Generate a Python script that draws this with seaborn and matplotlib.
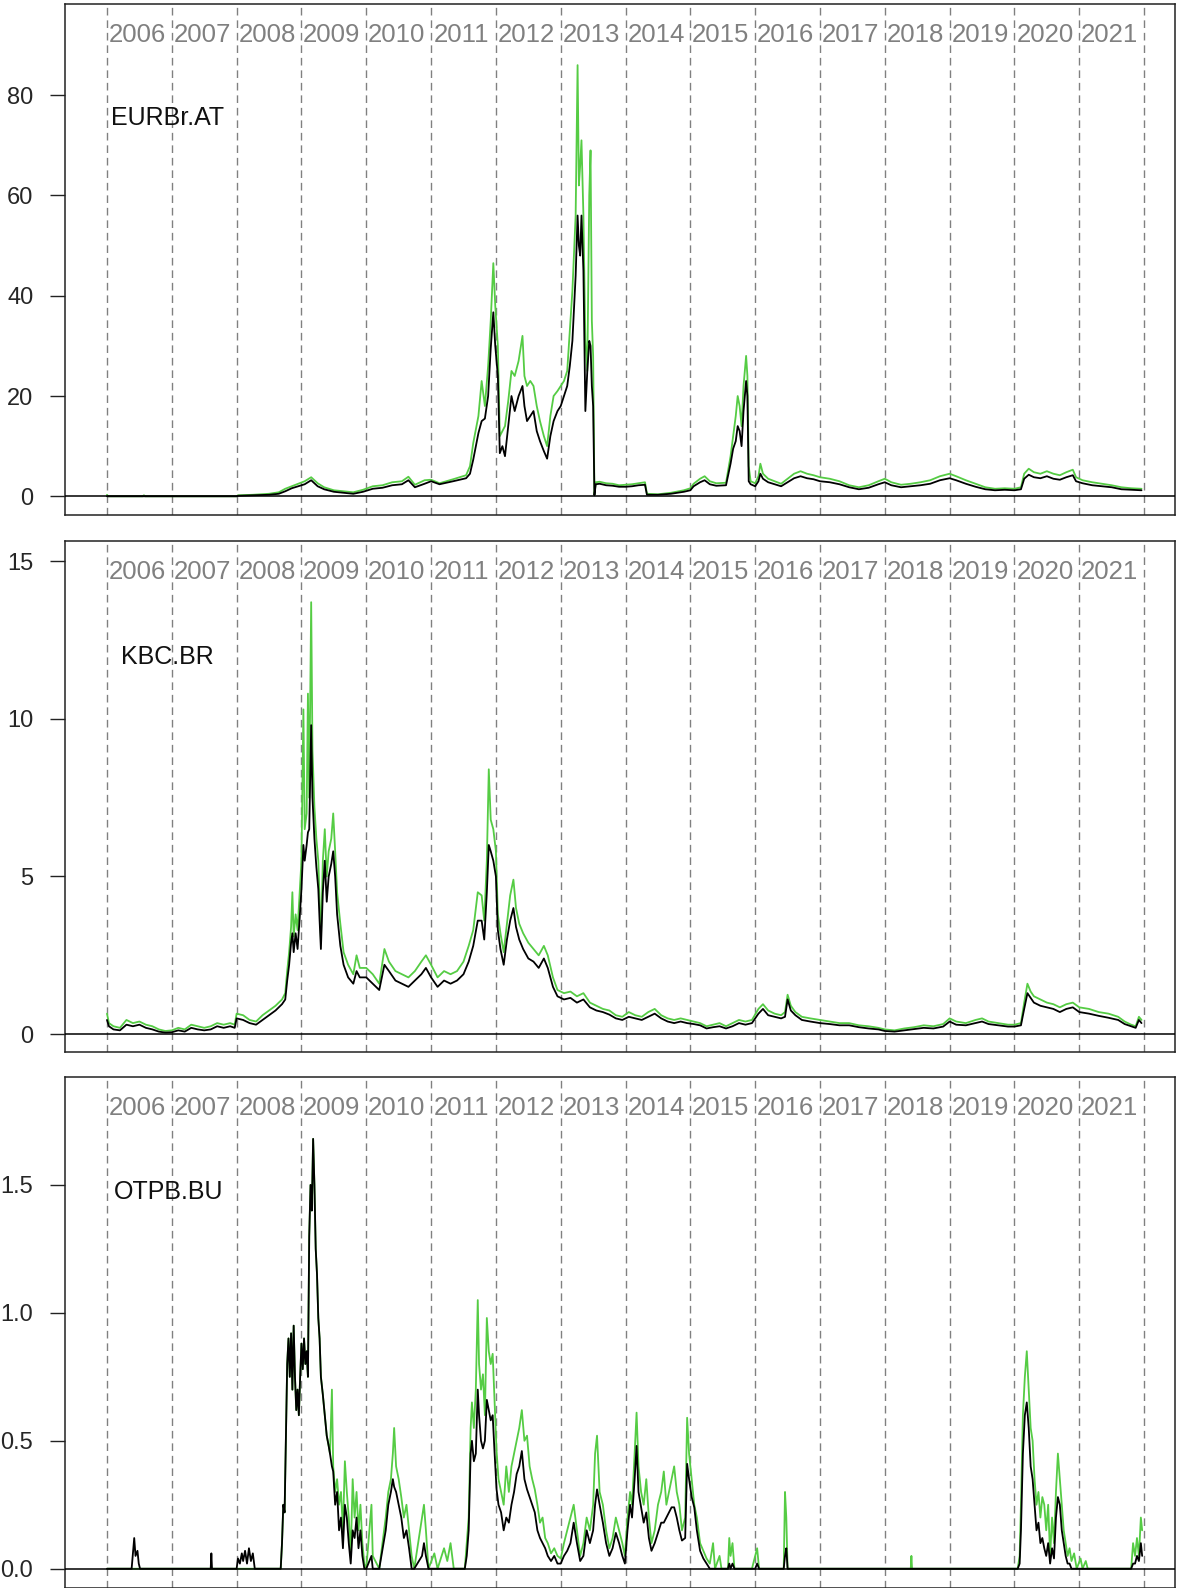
import numpy as np
import pandas as pd
import seaborn as sns
import matplotlib.pyplot as plt
import matplotlib.transforms as mtransforms

# ---- data (decimal years, two series per bank) ----
years = list(range(2006, 2022))
names = ['EURBr.AT', 'KBC.BR', 'OTPB.BU']

eur_t = [2006.00, 2006.02, 2006.04, 2006.55, 2006.57, 2006.59, 2008.00, 2008.02, 2008.25, 2008.50,
         2008.65, 2008.75, 2008.85, 2008.95, 2009.05, 2009.15, 2009.25, 2009.35, 2009.50, 2009.65,
         2009.80, 2009.95, 2010.10, 2010.25, 2010.40, 2010.55, 2010.65, 2010.75, 2010.90, 2011.00,
         2011.13, 2011.34, 2011.54, 2011.60, 2011.65, 2011.73, 2011.78, 2011.83, 2011.88, 2011.92,
         2011.96, 2011.99, 2012.03, 2012.06, 2012.10, 2012.14, 2012.19, 2012.24, 2012.29, 2012.35,
         2012.41, 2012.44, 2012.48, 2012.53, 2012.58, 2012.63, 2012.68, 2012.74, 2012.79, 2012.84,
         2012.89, 2012.95, 2013.00, 2013.05, 2013.10, 2013.14, 2013.18, 2013.23, 2013.26, 2013.28,
         2013.30, 2013.32, 2013.35, 2013.38, 2013.41, 2013.44, 2013.46, 2013.48, 2013.50, 2013.52,
         2013.54, 2013.60, 2013.70, 2013.80, 2013.90, 2014.00, 2014.10, 2014.20, 2014.30, 2014.33,
         2014.50, 2014.70, 2014.90, 2015.00, 2015.05, 2015.15, 2015.22, 2015.30, 2015.40, 2015.55,
         2015.58, 2015.62, 2015.66, 2015.70, 2015.73, 2015.76, 2015.79, 2015.82, 2015.86, 2015.88,
         2015.90, 2015.93, 2016.00, 2016.05, 2016.08, 2016.12, 2016.20, 2016.30, 2016.40, 2016.50,
         2016.60, 2016.70, 2016.80, 2016.90, 2017.00, 2017.15, 2017.30, 2017.45, 2017.60, 2017.75,
         2017.90, 2018.00, 2018.10, 2018.25, 2018.40, 2018.55, 2018.70, 2018.85, 2019.00, 2019.10,
         2019.25, 2019.40, 2019.55, 2019.70, 2019.85, 2020.00, 2020.10, 2020.15, 2020.22, 2020.30,
         2020.40, 2020.50, 2020.60, 2020.70, 2020.80, 2020.90, 2020.95, 2021.05, 2021.20, 2021.35,
         2021.50, 2021.65, 2021.80, 2021.96]
eur_green = [0.3, 0.0, 0.0, 0.0, 0.2, 0.0, 0.0, 0.2, 0.3, 0.5,
             0.8, 1.5, 2.0, 2.5, 3.0, 3.8, 2.6, 1.8, 1.2, 1.0,
             0.8, 1.3, 2.0, 2.2, 2.8, 3.0, 3.9, 2.3, 3.2, 3.3,
             2.6, 3.4, 4.2, 6.0, 10.6, 16.0, 23.0, 18.0, 26.0, 35.0,
             46.5, 38.0, 30.0, 12.0, 13.0, 14.0, 19.0, 25.0, 24.0, 27.0,
             32.0, 24.0, 22.0, 23.0, 22.0, 18.0, 15.0, 12.0, 10.0, 16.0,
             20.0, 21.0, 22.0, 23.0, 25.0, 33.0, 41.0, 56.0, 86.0, 62.0,
             66.0, 71.0, 56.0, 31.0, 25.0, 60.0, 69.0, 35.0, 28.0, 0.3,
             2.8, 2.9, 2.6, 2.5, 2.2, 2.3, 2.4, 2.6, 2.8, 0.5,
             0.4, 0.7, 1.2, 1.6, 2.5, 3.5, 4.0, 3.0, 2.6, 2.7,
             5.0, 8.0, 12.0, 16.0, 20.0, 18.0, 14.0, 22.0, 28.0, 24.0,
             6.0, 3.0, 2.6, 4.0, 6.5, 4.5, 3.5, 3.0, 2.5, 3.5,
             4.5, 5.0, 4.5, 4.2, 3.8, 3.5, 3.0, 2.2, 1.8, 2.2,
             3.0, 3.5, 2.8, 2.3, 2.5, 2.8, 3.2, 4.0, 4.5, 4.0,
             3.2, 2.5, 1.8, 1.5, 1.6, 1.5, 1.8, 4.5, 5.5, 4.8,
             4.5, 5.0, 4.5, 4.2, 4.8, 5.3, 3.8, 3.2, 2.8, 2.5,
             2.2, 1.8, 1.6, 1.5]
eur_black = [0.0, 0.0, 0.0, 0.0, 0.0, 0.0, 0.0, 0.1, 0.2, 0.3,
             0.5, 1.0, 1.6, 2.0, 2.4, 3.2, 2.0, 1.4, 0.9, 0.7,
             0.5, 0.9, 1.5, 1.7, 2.2, 2.4, 3.2, 1.8, 2.5, 3.0,
             2.4, 3.0, 3.6, 4.5, 7.3, 12.6, 15.0, 15.5, 20.0, 29.5,
             36.7, 30.0, 24.0, 8.6, 10.0, 8.0, 14.0, 20.0, 17.0, 20.0,
             22.0, 18.0, 15.0, 16.0, 17.0, 13.0, 11.0, 9.0, 7.5, 12.0,
             15.0, 17.0, 18.0, 20.0, 22.0, 26.0, 31.0, 44.0, 56.0, 50.0,
             48.0, 56.0, 45.0, 17.0, 25.0, 31.0, 30.0, 22.0, 18.0, 0.2,
             2.4, 2.5, 2.2, 2.1, 1.9, 1.9, 2.0, 2.2, 2.3, 0.3,
             0.3, 0.5, 0.9, 1.2, 2.0, 2.8, 3.2, 2.4, 2.1, 2.2,
             4.0, 6.5, 9.5, 11.0, 14.0, 13.0, 10.0, 17.0, 23.0, 20.0,
             3.0, 2.4, 2.0, 3.0, 4.5, 3.5, 2.8, 2.4, 2.0, 2.8,
             3.6, 4.0, 3.6, 3.4, 3.0, 2.8, 2.4, 1.8, 1.4, 1.7,
             2.4, 2.8, 2.2, 1.8, 2.0, 2.2, 2.5, 3.2, 3.6, 3.2,
             2.5, 1.9, 1.4, 1.2, 1.3, 1.2, 1.4, 3.5, 4.3, 3.8,
             3.6, 4.0, 3.5, 3.3, 3.8, 4.2, 3.0, 2.6, 2.2, 2.0,
             1.8, 1.4, 1.3, 1.2]

kbc_t = [2006.00, 2006.03, 2006.10, 2006.20, 2006.30, 2006.40, 2006.50, 2006.60, 2006.70, 2006.80,
         2006.90, 2007.00, 2007.10, 2007.20, 2007.30, 2007.40, 2007.50, 2007.60, 2007.70, 2007.80,
         2007.90, 2007.97, 2008.00, 2008.10, 2008.20, 2008.30, 2008.40, 2008.50, 2008.60, 2008.70,
         2008.75, 2008.78, 2008.81, 2008.84, 2008.86, 2008.88, 2008.91, 2008.94, 2008.97, 2009.00,
         2009.03, 2009.05, 2009.08, 2009.10, 2009.12, 2009.15, 2009.17, 2009.20, 2009.23, 2009.26,
         2009.28, 2009.30, 2009.33, 2009.36, 2009.39, 2009.42, 2009.46, 2009.49, 2009.52, 2009.55,
         2009.60, 2009.65, 2009.72, 2009.80, 2009.85, 2009.90, 2010.00, 2010.10, 2010.20, 2010.28,
         2010.35, 2010.45, 2010.55, 2010.65, 2010.75, 2010.85, 2010.92, 2011.00, 2011.10, 2011.20,
         2011.30, 2011.40, 2011.50, 2011.58, 2011.65, 2011.72, 2011.78, 2011.82, 2011.86, 2011.89,
         2011.92, 2011.96, 2012.00, 2012.03, 2012.07, 2012.12, 2012.17, 2012.22, 2012.27, 2012.31,
         2012.36, 2012.42, 2012.50, 2012.58, 2012.66, 2012.74, 2012.80, 2012.88, 2012.95, 2013.05,
         2013.15, 2013.25, 2013.35, 2013.45, 2013.55, 2013.65, 2013.75, 2013.85, 2013.95, 2014.05,
         2014.15, 2014.25, 2014.35, 2014.45, 2014.55, 2014.65, 2014.75, 2014.85, 2014.95, 2015.05,
         2015.15, 2015.25, 2015.35, 2015.45, 2015.55, 2015.65, 2015.75, 2015.85, 2015.95, 2016.05,
         2016.12, 2016.20, 2016.30, 2016.40, 2016.46, 2016.50, 2016.55, 2016.62, 2016.72, 2016.85,
         2017.00, 2017.15, 2017.30, 2017.45, 2017.60, 2017.75, 2017.90, 2018.00, 2018.15, 2018.30,
         2018.45, 2018.60, 2018.75, 2018.90, 2019.00, 2019.10, 2019.25, 2019.40, 2019.50, 2019.60,
         2019.75, 2019.90, 2020.00, 2020.10, 2020.15, 2020.20, 2020.25, 2020.30, 2020.40, 2020.50,
         2020.60, 2020.70, 2020.80, 2020.90, 2021.00, 2021.15, 2021.30, 2021.45, 2021.60, 2021.70,
         2021.80, 2021.87, 2021.92, 2021.96]
kbc_green = [0.65, 0.35, 0.25, 0.20, 0.45, 0.35, 0.40, 0.30, 0.25, 0.15,
             0.10, 0.12, 0.20, 0.15, 0.30, 0.25, 0.20, 0.25, 0.35, 0.30,
             0.35, 0.30, 0.65, 0.60, 0.45, 0.40, 0.60, 0.75, 0.90, 1.10,
             1.30, 2.00, 2.60, 3.40, 4.50, 3.10, 3.80, 3.30, 4.40, 5.50,
             10.3, 6.50, 7.00, 10.8, 7.50, 13.7, 9.00, 7.20, 6.20, 5.50,
             4.20, 3.00, 5.50, 6.50, 5.00, 5.80, 6.20, 7.00, 5.80, 4.50,
             3.50, 2.60, 2.20, 1.90, 2.50, 2.10, 2.10, 1.90, 1.60, 2.70,
             2.30, 2.00, 1.90, 1.80, 2.00, 2.30, 2.50, 2.20, 1.80, 2.00,
             1.90, 2.00, 2.30, 2.80, 3.30, 4.50, 4.40, 3.60, 5.50, 8.40,
             6.80, 6.50, 5.80, 3.80, 3.20, 2.60, 3.50, 4.40, 4.90, 4.00,
             3.50, 3.20, 2.90, 2.70, 2.50, 2.80, 2.50, 1.80, 1.40, 1.30,
             1.35, 1.20, 1.30, 1.00, 0.90, 0.80, 0.75, 0.60, 0.55, 0.70,
             0.60, 0.55, 0.70, 0.80, 0.60, 0.50, 0.45, 0.50, 0.45, 0.40,
             0.35, 0.25, 0.30, 0.35, 0.25, 0.35, 0.45, 0.40, 0.45, 0.80,
             0.95, 0.75, 0.65, 0.60, 0.70, 1.25, 0.90, 0.70, 0.55, 0.50,
             0.45, 0.40, 0.35, 0.35, 0.28, 0.25, 0.20, 0.15, 0.12, 0.18,
             0.22, 0.28, 0.25, 0.32, 0.50, 0.40, 0.35, 0.45, 0.50, 0.40,
             0.35, 0.30, 0.30, 0.35, 1.00, 1.60, 1.35, 1.20, 1.10, 1.00,
             0.95, 0.85, 0.95, 1.00, 0.85, 0.80, 0.70, 0.65, 0.55, 0.40,
             0.30, 0.25, 0.55, 0.45]
kbc_black = [0.45, 0.25, 0.15, 0.12, 0.30, 0.25, 0.30, 0.20, 0.15, 0.08,
             0.05, 0.06, 0.12, 0.08, 0.20, 0.15, 0.12, 0.15, 0.25, 0.20,
             0.25, 0.20, 0.50, 0.45, 0.35, 0.30, 0.45, 0.60, 0.75, 0.95,
             1.10, 1.70, 2.20, 2.90, 3.20, 2.60, 3.20, 2.70, 3.60, 4.60,
             6.00, 5.50, 6.00, 6.40, 6.50, 9.80, 7.50, 6.20, 5.30, 4.60,
             3.60, 2.70, 4.50, 5.50, 4.20, 5.00, 5.40, 5.80, 5.00, 3.80,
             2.80, 2.20, 1.80, 1.60, 2.00, 1.80, 1.80, 1.60, 1.40, 2.20,
             2.00, 1.70, 1.60, 1.50, 1.70, 1.90, 2.10, 1.80, 1.50, 1.70,
             1.60, 1.70, 1.90, 2.30, 2.80, 3.60, 3.60, 3.00, 4.50, 6.00,
             5.80, 5.50, 5.00, 3.30, 2.70, 2.20, 3.00, 3.60, 4.00, 3.40,
             3.00, 2.70, 2.40, 2.30, 2.10, 2.40, 2.10, 1.50, 1.20, 1.10,
             1.15, 1.00, 1.10, 0.85, 0.75, 0.70, 0.62, 0.50, 0.45, 0.55,
             0.50, 0.45, 0.55, 0.65, 0.50, 0.40, 0.35, 0.40, 0.35, 0.32,
             0.28, 0.18, 0.22, 0.25, 0.18, 0.25, 0.35, 0.30, 0.35, 0.65,
             0.80, 0.60, 0.55, 0.50, 0.55, 1.10, 0.75, 0.60, 0.45, 0.40,
             0.35, 0.32, 0.28, 0.28, 0.22, 0.18, 0.15, 0.10, 0.08, 0.12,
             0.16, 0.20, 0.18, 0.24, 0.40, 0.30, 0.28, 0.35, 0.40, 0.32,
             0.28, 0.24, 0.24, 0.28, 0.80, 1.30, 1.15, 1.00, 0.90, 0.85,
             0.80, 0.70, 0.80, 0.85, 0.70, 0.65, 0.58, 0.52, 0.45, 0.32,
             0.25, 0.20, 0.45, 0.35]

otp_t = [2006.00, 2006.38, 2006.40, 2006.42, 2006.44, 2006.47, 2006.49, 2006.51, 2007.60, 2007.61,
         2007.62, 2008.00, 2008.02, 2008.05, 2008.08, 2008.10, 2008.13, 2008.16, 2008.19, 2008.22,
         2008.25, 2008.28, 2008.68, 2008.70, 2008.72, 2008.74, 2008.76, 2008.78, 2008.80, 2008.82,
         2008.84, 2008.86, 2008.88, 2008.90, 2008.92, 2008.94, 2008.96, 2008.98, 2009.00, 2009.02,
         2009.04, 2009.06, 2009.08, 2009.10, 2009.12, 2009.14, 2009.16, 2009.18, 2009.20, 2009.22,
         2009.24, 2009.26, 2009.28, 2009.30, 2009.33, 2009.36, 2009.39, 2009.42, 2009.44, 2009.47,
         2009.49, 2009.52, 2009.55, 2009.58, 2009.61, 2009.64, 2009.67, 2009.70, 2009.73, 2009.76,
         2009.79, 2009.82, 2009.85, 2009.88, 2009.91, 2009.94, 2009.97, 2010.00, 2010.08, 2010.10,
         2010.20, 2010.30, 2010.34, 2010.38, 2010.41, 2010.43, 2010.46, 2010.50, 2010.54, 2010.58,
         2010.62, 2010.66, 2010.70, 2010.74, 2010.86, 2010.89, 2010.92, 2010.96, 2011.05, 2011.10,
         2011.20, 2011.25, 2011.30, 2011.35, 2011.52, 2011.55, 2011.58, 2011.61, 2011.63, 2011.66,
         2011.69, 2011.72, 2011.74, 2011.77, 2011.80, 2011.83, 2011.86, 2011.89, 2011.92, 2011.95,
         2011.98, 2012.01, 2012.04, 2012.08, 2012.12, 2012.16, 2012.20, 2012.24, 2012.28, 2012.32,
         2012.36, 2012.40, 2012.44, 2012.48, 2012.52, 2012.56, 2012.60, 2012.64, 2012.68, 2012.72,
         2012.76, 2012.80, 2012.85, 2012.90, 2012.95, 2013.00, 2013.05, 2013.10, 2013.15, 2013.20,
         2013.25, 2013.30, 2013.35, 2013.40, 2013.45, 2013.50, 2013.53, 2013.56, 2013.60, 2013.65,
         2013.70, 2013.75, 2013.80, 2013.85, 2013.90, 2013.95, 2013.99, 2014.03, 2014.07, 2014.10,
         2014.14, 2014.17, 2014.20, 2014.24, 2014.28, 2014.32, 2014.36, 2014.40, 2014.45, 2014.50,
         2014.55, 2014.59, 2014.63, 2014.67, 2014.71, 2014.75, 2014.79, 2014.83, 2014.87, 2014.92,
         2014.95, 2014.98, 2015.02, 2015.06, 2015.10, 2015.15, 2015.20, 2015.25, 2015.30, 2015.35,
         2015.38, 2015.45, 2015.48, 2015.58, 2015.60, 2015.62, 2015.65, 2015.68, 2015.95, 2016.00,
         2016.03, 2016.06, 2016.44, 2016.46, 2016.48, 2016.50, 2018.40, 2018.41, 2018.42, 2020.05,
         2020.08, 2020.10, 2020.13, 2020.16, 2020.19, 2020.22, 2020.25, 2020.28, 2020.31, 2020.34,
         2020.37, 2020.40, 2020.43, 2020.46, 2020.49, 2020.52, 2020.55, 2020.58, 2020.61, 2020.64,
         2020.67, 2020.70, 2020.73, 2020.76, 2020.79, 2020.82, 2020.85, 2020.88, 2020.92, 2020.96,
         2021.02, 2021.05, 2021.10, 2021.13, 2021.80, 2021.83, 2021.86, 2021.89, 2021.92, 2021.95,
         2021.97]
otp_green = [0, 0, 0, 0, 0, 0, 0, 0, 0, 0,
             0, 0, 0, 0, 0, 0, 0, 0, 0, 0,
             0, 0, 0, 0.10, 0.25, 0.22, 0.50, 0.80, 0.90, 0.75,
             0.92, 0.70, 0.95, 0.75, 0.62, 0.70, 0.60, 0.75, 0.88, 0.78,
             0.90, 0.80, 0.85, 0.75, 1.30, 1.50, 1.40, 1.68, 1.50, 1.25,
             1.15, 0.98, 0.90, 0.75, 0.68, 0.60, 0.52, 0.48, 0.45, 0.70,
             0.40, 0.30, 0.35, 0.25, 0.30, 0.15, 0.42, 0.30, 0.20, 0.05,
             0.35, 0.20, 0.30, 0.15, 0.25, 0.10, 0.02, 0, 0.25, 0.05,
             0, 0.20, 0.30, 0.35, 0.45, 0.55, 0.40, 0.35, 0.28, 0.20,
             0.25, 0.15, 0.05, 0, 0.20, 0.25, 0.15, 0, 0.06, 0,
             0.08, 0.03, 0.10, 0, 0, 0.10, 0.20, 0.55, 0.65, 0.55,
             0.70, 1.05, 0.80, 0.70, 0.76, 0.60, 0.98, 0.85, 0.80, 0.84,
             0.65, 0.46, 0.35, 0.30, 0.25, 0.40, 0.30, 0.40, 0.45, 0.50,
             0.55, 0.62, 0.50, 0.52, 0.40, 0.35, 0.31, 0.25, 0.18, 0.20,
             0.12, 0.10, 0.06, 0.08, 0.05, 0.04, 0.10, 0.15, 0.20, 0.25,
             0.15, 0.05, 0.10, 0.20, 0.15, 0.25, 0.45, 0.52, 0.30, 0.25,
             0.15, 0.08, 0.12, 0.20, 0.15, 0.10, 0.05, 0.20, 0.30, 0.25,
             0.45, 0.61, 0.40, 0.30, 0.25, 0.35, 0.20, 0.10, 0.15, 0.25,
             0.30, 0.38, 0.25, 0.30, 0.35, 0.40, 0.30, 0.25, 0.15, 0.20,
             0.59, 0.45, 0.35, 0.25, 0.20, 0.10, 0.07, 0.04, 0.02, 0.10,
             0, 0.05, 0, 0, 0.12, 0.05, 0.10, 0, 0, 0.05,
             0.08, 0, 0, 0.30, 0.20, 0, 0, 0.05, 0, 0,
             0.05, 0.25, 0.60, 0.75, 0.85, 0.70, 0.55, 0.50, 0.35, 0.25,
             0.30, 0.20, 0.28, 0.25, 0.15, 0.25, 0.05, 0.20, 0.10, 0.30,
             0.45, 0.35, 0.25, 0.15, 0.10, 0.05, 0.08, 0.03, 0.06, 0,
             0.04, 0, 0.03, 0, 0, 0.10, 0.05, 0.12, 0.05, 0.20,
             0.15]
otp_black = [0, 0, 0.06, 0.12, 0.05, 0.07, 0.02, 0, 0, 0.06,
             0, 0, 0.04, 0.02, 0.06, 0.03, 0.07, 0.02, 0.08, 0.03,
             0.06, 0, 0, 0.10, 0.25, 0.22, 0.50, 0.80, 0.90, 0.75,
             0.92, 0.70, 0.95, 0.75, 0.62, 0.70, 0.60, 0.75, 0.88, 0.78,
             0.90, 0.80, 0.85, 0.75, 1.30, 1.50, 1.40, 1.68, 1.50, 1.25,
             1.15, 0.98, 0.90, 0.75, 0.68, 0.60, 0.52, 0.48, 0.45, 0.40,
             0.38, 0.25, 0.30, 0.15, 0.20, 0.08, 0.25, 0.20, 0.10, 0.02,
             0.15, 0.12, 0.20, 0.08, 0.15, 0.05, 0, 0, 0.05, 0,
             0, 0.15, 0.25, 0.30, 0.35, 0.32, 0.30, 0.25, 0.20, 0.12,
             0.15, 0.08, 0, 0, 0.05, 0.10, 0.05, 0, 0, 0,
             0, 0, 0, 0, 0, 0.05, 0.15, 0.45, 0.50, 0.42,
             0.45, 0.70, 0.60, 0.50, 0.47, 0.50, 0.66, 0.62, 0.58, 0.60,
             0.45, 0.31, 0.25, 0.22, 0.15, 0.20, 0.18, 0.25, 0.30, 0.37,
             0.40, 0.46, 0.35, 0.31, 0.28, 0.25, 0.22, 0.15, 0.12, 0.10,
             0.08, 0.05, 0.03, 0.05, 0.02, 0.02, 0.05, 0.07, 0.10, 0.18,
             0.10, 0.03, 0.05, 0.15, 0.10, 0.15, 0.25, 0.31, 0.25, 0.18,
             0.10, 0.05, 0.08, 0.14, 0.10, 0.05, 0.02, 0.15, 0.25, 0.20,
             0.35, 0.48, 0.30, 0.24, 0.18, 0.22, 0.12, 0.07, 0.10, 0.14,
             0.18, 0.18, 0.20, 0.22, 0.24, 0.24, 0.20, 0.15, 0.11, 0.12,
             0.41, 0.35, 0.28, 0.24, 0.15, 0.07, 0.04, 0.02, 0, 0,
             0, 0, 0, 0, 0.02, 0, 0.02, 0, 0, 0,
             0.02, 0, 0, 0.05, 0.08, 0, 0, 0, 0, 0,
             0.02, 0.15, 0.45, 0.60, 0.65, 0.55, 0.40, 0.35, 0.25, 0.15,
             0.18, 0.10, 0.12, 0.08, 0.05, 0.10, 0.02, 0.08, 0.04, 0.20,
             0.28, 0.25, 0.15, 0.10, 0.05, 0.02, 0.02, 0, 0, 0,
             0, 0, 0, 0, 0, 0.02, 0.02, 0.05, 0.03, 0.10,
             0.05]

eur_ticks = [0, 20, 40, 60, 80]
kbc_ticks = [0, 5, 10, 15]
otp_ticks = [0.0, 0.5, 1.0, 1.5]

# ---- style ----
GREEN = '#55cc44'
GREY = '#808080'
FS_YEAR = 18.5
FS_TICK = 17
FS_NAME = 18

sns.set_style('white')
plt.rcParams['font.family'] = ['Liberation Sans', 'DejaVu Sans']

fig = plt.figure(figsize=(11.86, 15.88), dpi=100)

panels = [
    (eur_t, eur_green, eur_black, eur_ticks, '{:.0f}', (-3.73, 98.2), 0.6757, (2006.06, 75.4)),
    (kbc_t, kbc_green, kbc_black, kbc_ticks, '{:.0f}', (-0.568, 15.64), 0.3375, (2006.21, 11.97)),
    (otp_t, otp_green, otp_black, otp_ticks, '{:.1f}', (-0.0754, 1.922), 0.0, (2006.10, 1.471)),
]

for name, (t, g, b, ticks, fmt, ylim, bottom, lab) in zip(names, panels):
    assert len(t) == len(g) == len(b), name
    ax = fig.add_axes([0.0548, bottom, 0.936, 0.3218])
    df = pd.DataFrame({
        't': t + t,
        'value': g + b,
        'series': ['green'] * len(t) + ['black'] * len(t),
    })
    for yr in range(2006, 2023):
        ax.axvline(yr, color=GREY, lw=1.0, ls=(0, (5.5, 3.5)), zorder=0)
    sns.lineplot(data=df, x='t', y='value', hue='series', hue_order=['green', 'black'],
                 palette={'green': GREEN, 'black': 'black'}, estimator=None, sort=False,
                 legend=False, linewidth=1.3, ax=ax)
    ax.axhline(0, color='black', lw=1.1, zorder=5)

    trans = mtransforms.blended_transform_factory(ax.transData, ax.transAxes)
    for yr in years:
        ax.text(yr + 0.47, 0.94, str(yr), transform=trans, ha='center', va='center',
                color=GREY, fontsize=FS_YEAR)
    ax.text(lab[0], lab[1], name, ha='left', va='center', color='#111111', fontsize=FS_NAME)

    ax.set_xlim(2005.352, 2022.478)
    ax.set_ylim(*ylim)
    ax.set_xticks([])
    ax.set_yticks(ticks)
    ax.set_yticklabels([fmt.format(v) for v in ticks])
    ax.tick_params(axis='y', left=True, length=10.8, width=1.0, pad=12, labelsize=FS_TICK,
                   color='#222222')
    ax.set_xlabel('')
    ax.set_ylabel('')
    for sp in ax.spines.values():
        sp.set_visible(True)
        sp.set_linewidth(1.1)
        sp.set_color('#222222')

fig.savefig('out.png', dpi=100)
